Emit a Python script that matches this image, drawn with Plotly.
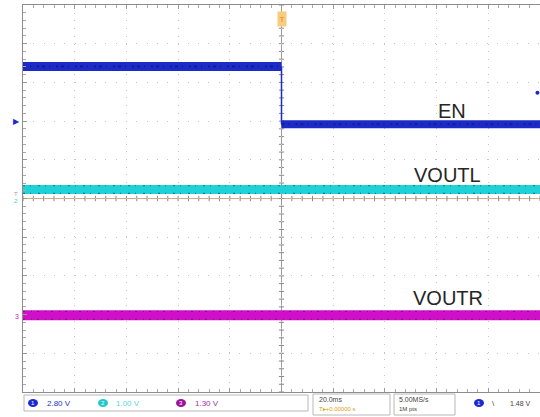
import numpy as np
import plotly.graph_objects as go

# ---------------- data (in screen divisions) ----------------
en_time = [-5.0, 0.0, 0.0, 5.0]
en_level = [3.41, 3.41, 1.92, 1.92]
voutl_time = [-5.0, 5.0]
voutl_level = [0.23, 0.23]
voutr_time = [-5.0, 5.0]
voutr_level = [-3.02, -3.02]

trace_labels = ["EN", "VOUTL", "VOUTR"]
label_x = [3.29, 3.21, 3.23]
label_y = [2.27, 0.61, -2.56]

ch_scales = ["2.80 V", "1.00 V", "1.30 V"]
timebase = "20.0ms"
trig_pos = "T\u25b8+0.00000 s"
sample_rate = "5.00MS/s"
record_len = "1M pts"
trig_level = "1.48 V"

BLUE = "#1c2bc6"
CYAN = "#1ed2d8"
MAG = "#d010c8"

W, H = 540, 417
L, R, T, B = 23, 0, 5, 25
PW, PH = W - L - R, H - T - B


def pp(x, y):
    """figure pixel -> paper coords"""
    return (x - L) / PW, (H - B - y) / PH


fig = go.Figure()

# EN
fig.add_trace(go.Scatter(x=en_time[0:2], y=en_level[0:2], mode="lines",
                         line=dict(color=BLUE, width=9), hoverinfo="skip"))
fig.add_trace(go.Scatter(x=en_time[2:4], y=en_level[2:4], mode="lines",
                         line=dict(color=BLUE, width=8), hoverinfo="skip"))
fig.add_trace(go.Scatter(x=en_time[1:3], y=en_level[1:3], mode="lines",
                         line=dict(color=BLUE, width=1.5), hoverinfo="skip"))
for seg in [(0, 2), (2, 4)]:
    fig.add_trace(go.Scatter(x=en_time[seg[0]:seg[1]], y=en_level[seg[0]:seg[1]],
                             mode="lines",
                             line=dict(color="#101c9c", width=2, dash="3px,4px,1px,6px,2px,3px"),
                             hoverinfo="skip"))

# VOUTL
fig.add_trace(go.Scatter(x=voutl_time, y=voutl_level, mode="lines",
                         line=dict(color=CYAN, width=9), hoverinfo="skip"))
for off in (0.1, -0.1):
    fig.add_trace(go.Scatter(x=voutl_time, y=[v + off for v in voutl_level], mode="lines",
                             line=dict(color="#157a80", width=1.2, dash="2px,5px,1px,7px"),
                             hoverinfo="skip"))

# VOUTR
fig.add_trace(go.Scatter(x=voutr_time, y=voutr_level, mode="lines",
                         line=dict(color=MAG, width=10), hoverinfo="skip"))
for off in (0.1, -0.1):
    fig.add_trace(go.Scatter(x=voutr_time, y=[v + off for v in voutr_level], mode="lines",
                             line=dict(color="#80107e", width=1.2, dash="2px,6px,1px,5px"),
                             hoverinfo="skip"))

# trigger level marker at right edge
fig.add_trace(go.Scatter(x=[4.95], y=[2.73], mode="markers", cliponaxis=False,
                         marker=dict(color=BLUE, size=4), hoverinfo="skip"))

shapes = []
# centre cross
shapes.append(dict(type="line", x0=0, x1=0, y0=-5, y1=5, xref="x", yref="y",
                   line=dict(color="#9a9a9a", width=1), layer="below"))
shapes.append(dict(type="line", x0=-5, x1=5, y0=0, y1=0, xref="x", yref="y",
                   line=dict(color="#d8a886", width=1), layer="below"))
for t in np.arange(-5, 5.0001, 0.2):
    shapes.append(dict(type="line", x0=t, x1=t, y0=-0.07, y1=0.07, xref="x", yref="y",
                       line=dict(color="#8a8a8a", width=1), layer="below"))
    shapes.append(dict(type="line", x0=-0.05, x1=0.05, y0=t, y1=t, xref="x", yref="y",
                       line=dict(color="#8a8a8a", width=1), layer="below"))

# status bar boxes
def box(x0, y0, x1, y1):
    a0, b0 = pp(x0, y0)
    a1, b1 = pp(x1, y1)
    shapes.append(dict(type="rect", xref="paper", yref="paper", x0=a0, x1=a1, y0=b1, y1=b0,
                       line=dict(color="#b8b8b8", width=1)))

box(24, 395, 308, 411)
box(313, 394, 390, 415)
box(394, 394, 455, 415)

def dot(x, y, color):
    a0, b0 = pp(x - 5, y - 4)
    a1, b1 = pp(x + 5, y + 4)
    shapes.append(dict(type="circle", xref="paper", yref="paper", x0=a0, x1=a1, y0=b1, y1=b0,
                       fillcolor=color, line=dict(color=color, width=0)))

dot(33, 403, "#1a2ad0")
dot(103, 403, "#22c8c8")
dot(181, 403, "#a0109a")
dot(479, 403, "#1a2ad0")

ann = []
for txt, x, y in zip(trace_labels, label_x, label_y):
    ann.append(dict(text=txt, x=x, y=y, xref="x", yref="y", showarrow=False,
                    font=dict(family="Liberation Sans, Arial", size=20, color="#262626")))

def ptext(txt, x, y, color, size=8, xanchor="left"):
    a, b = pp(x, y)
    ann.append(dict(text=txt, x=a, y=b, xref="paper", yref="paper", showarrow=False,
                    xanchor=xanchor, yanchor="middle",
                    font=dict(family="Liberation Sans, Arial", size=size, color=color)))

ptext(ch_scales[0], 45, 403, "#2434c0")
ptext(ch_scales[1], 114, 403, "#5cd6d6")
ptext(ch_scales[2], 193, 403, "#a030a0")
ptext("1", 33, 403, "#ffffff", 6, "center")
ptext("2", 103, 403, "#ffffff", 6, "center")
ptext("3", 181, 403, "#ffffff", 6, "center")
ptext("1", 479, 403, "#ffffff", 6, "center")
ptext(timebase, 317, 399, "#444444", 7)
ptext(trig_pos, 317, 409, "#e0a010", 6)
ptext(sample_rate, 397, 399, "#444444", 7)
ptext(record_len, 397, 409, "#444444", 6)
ptext("\\", 493, 403, "#444444", 8, "center")
ptext(trig_level, 508, 403, "#444444", 7)

# left channel markers
ptext("\u25b6", 16, 121, BLUE, 8, "center")
ptext("T", 16, 194, "#9a9a9a", 6, "center")
ptext("2", 16, 201, CYAN, 6, "center")
ptext("3", 17, 316, MAG, 7, "center")

# trigger position marker at top
a, b = pp(282, 11)
ann.append(dict(text="T", x=a, y=b, xref="paper", yref="paper", showarrow=False,
                font=dict(family="Liberation Sans, Arial", size=8, color="#d88a10"),
                bgcolor="#f8cc80", borderpad=1, width=6, height=12))

fig.update_layout(
    width=W, height=H,
    margin=dict(l=L, r=R, t=T, b=B, autoexpand=False),
    plot_bgcolor="white", paper_bgcolor="white",
    showlegend=False,
    shapes=shapes, annotations=ann,
    xaxis=dict(range=[-5, 5], dtick=1, tick0=-5, showgrid=True, gridcolor="#c4c4c4",
               griddash="1px,6.7px", gridwidth=1, zeroline=False, showticklabels=False,
               showline=True, linecolor="#8c8c8c", linewidth=1, mirror="ticks",
               ticks="inside", ticklen=4, tickcolor="#999999", automargin=False,
               minor=dict(dtick=0.2, ticks="inside", ticklen=3, tickcolor="#aaaaaa")),
    yaxis=dict(range=[-5, 5], dtick=1, tick0=-5, showgrid=True, gridcolor="#c4c4c4",
               griddash="1px,9.3px", gridwidth=1, zeroline=False, showticklabels=False,
               showline=True, linecolor="#8c8c8c", linewidth=1, mirror=False,
               ticks="inside", ticklen=4, tickcolor="#999999", automargin=False,
               minor=dict(dtick=0.2, ticks="inside", ticklen=3, tickcolor="#aaaaaa")),
)

fig.write_html("out.html",
               config={"displayModeBar": False},
               post_script="document.body.style.margin='0px';"
                           "document.body.style.overflow='hidden';")
